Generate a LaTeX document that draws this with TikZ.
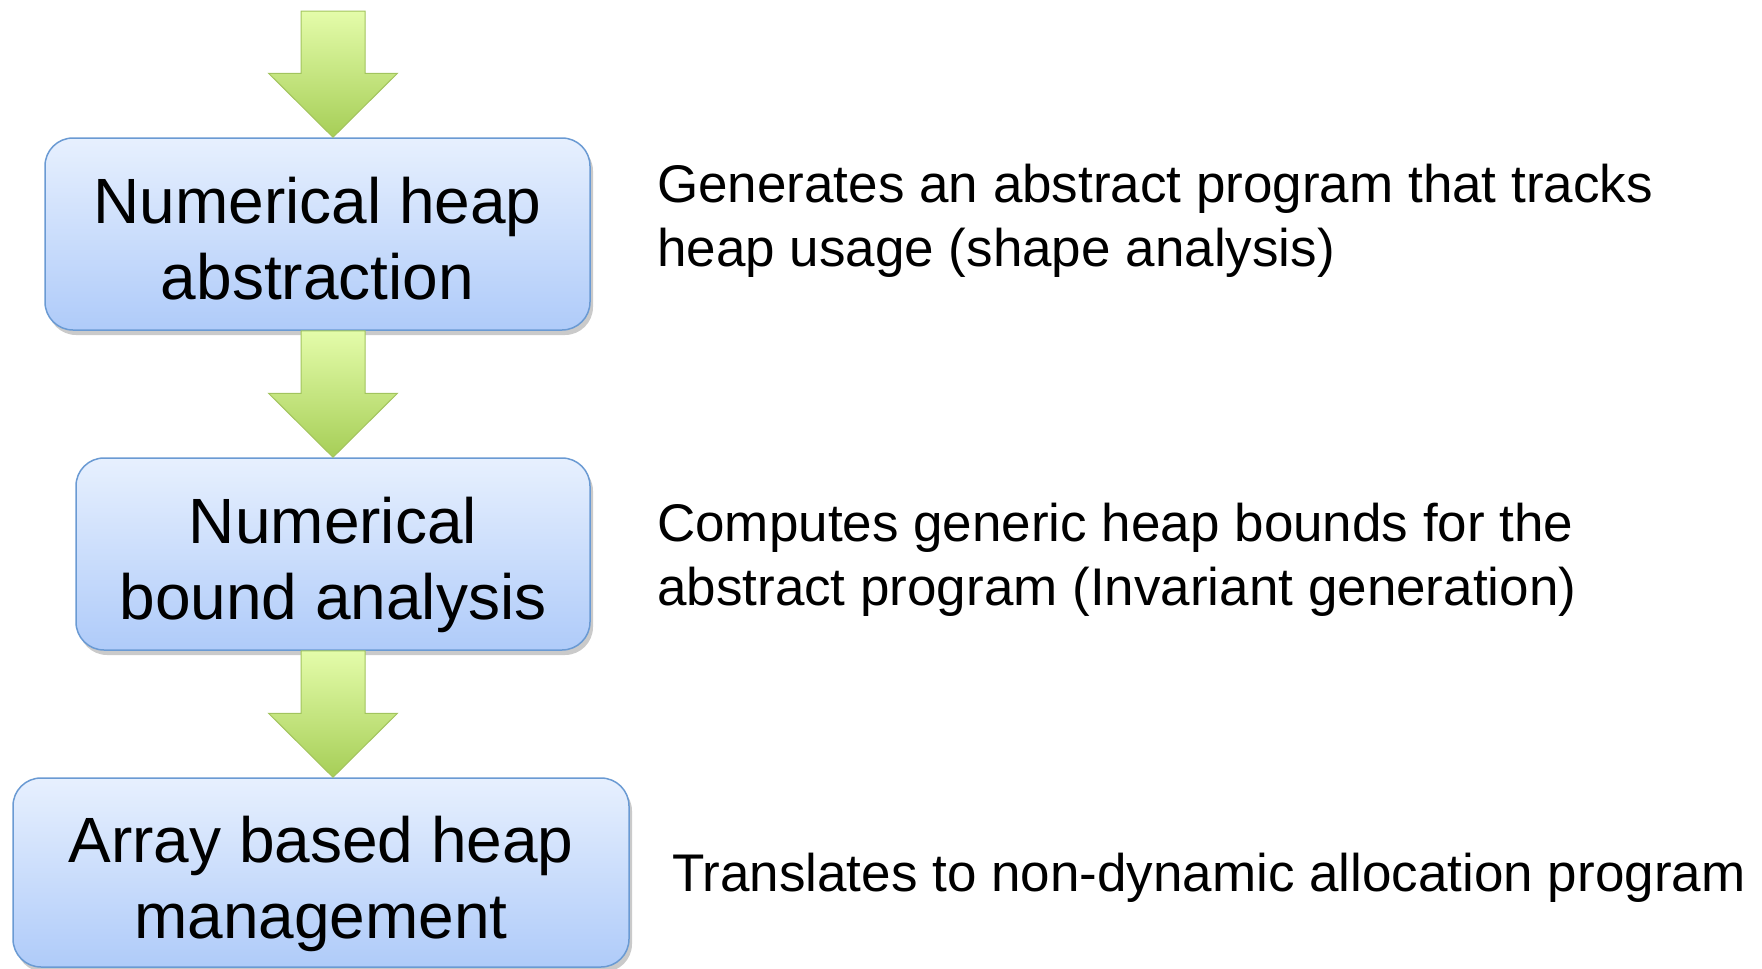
\documentclass[tikz,border=0pt]{standalone}
\usepackage{fontspec}
\setmainfont{Liberation Sans}
\usetikzlibrary{calc,shadows}

\definecolor{boxtop}{HTML}{E7F0FE}
\definecolor{boxbottom}{HTML}{AFCBF9}
\definecolor{boxborder}{HTML}{6A9AD3}
\definecolor{arrowtop}{HTML}{E4FCAA}
\definecolor{arrowbottom}{HTML}{A6CE57}
\definecolor{arrowborder}{HTML}{A2C45E}

\tikzset{
  stagebox/.style={draw=boxborder, line width=1.5pt, rounded corners=28pt,
    top color=boxtop, bottom color=boxbottom, align=center,
    font=\fontsize{64}{76}\selectfont, inner sep=0pt,
    text height=131pt, text depth=0pt,
    drop shadow={shadow xshift=3pt, shadow yshift=-5pt, opacity=0.35, fill=black!60}},
  notetext/.style={anchor=base west, align=left, inner sep=0pt,
    font=\fontsize{53}{64}\selectfont},
  fatarrow/.style={draw=arrowborder, line width=1pt,
    top color=arrowtop, bottom color=arrowbottom}
}

% block arrow from #1 (top of shaft) to #2 (tip)
\newcommand{\blockarrow}[2]{%
  \shade[fatarrow] let \p1=(#1), \p2=(#2) in
    (\x1-32pt,\y1) -- (\x1+32pt,\y1) -- (\x1+32pt,\y2+64pt) -- (\x1+64.5pt,\y2+64pt)
    -- (\x2,\y2) -- (\x1-64.5pt,\y2+64pt) -- (\x1-32pt,\y2+64pt) -- cycle;}

\begin{document}
\begin{tikzpicture}[x=1pt,y=1pt]
  \useasboundingbox (0,0) rectangle (1762,-969);

  % The three stages
  \node[stagebox, minimum width=545pt, minimum height=192pt] (abstr) at (317.5,-234) {Numerical heap\\abstraction};
  \node[stagebox, minimum width=514pt, minimum height=192pt] (bound) at (333,-554) {Numerical\\bound analysis};
  \node[stagebox, minimum width=616pt, minimum height=189pt] (array) at (321,-872.5) {Array based heap\\management};

  % Column of the arrows and the free start of the first one
  \coordinate (spine) at (333,0);
  \coordinate (in) at (333,-11);

  % Arrows between the stages
  \blockarrow{in}{abstr.north -| spine}
  \blockarrow{abstr.south -| spine}{bound.north -| spine}
  \blockarrow{bound.south -| spine}{array.north -| spine}

  % Descriptions on the right (base is the last line)
  \node[notetext] (noteabstr) at (657,-266) {Generates an abstract program that tracks\\heap usage (shape analysis)};
  \node[notetext] (notebound) at (657,-605) {Computes generic heap bounds for the\\abstract program (Invariant generation)};
  \node[notetext] (notearray) at (672,-891) {Translates to non-dynamic allocation program};
\end{tikzpicture}
\end{document}
